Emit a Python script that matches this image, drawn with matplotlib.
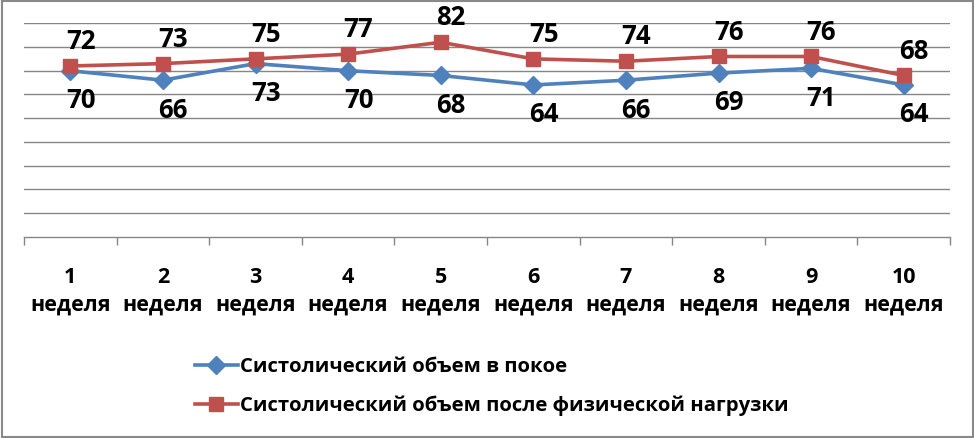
import matplotlib
matplotlib.use("Agg")
import matplotlib.pyplot as plt
from matplotlib.patches import Rectangle

plt.rcParams['font.family'] = ['Open Sans', 'DejaVu Sans']

weeks = [1, 2, 3, 4, 5, 6, 7, 8, 9, 10]
week_labels = [f"{w}\nнеделя" for w in weeks]
rest = [70, 66, 73, 70, 68, 64, 66, 69, 71, 64]
after_load = [72, 73, 75, 77, 82, 75, 74, 76, 76, 68]
name_rest = "Систолический объем в покое"
name_load = "Систолический объем после физической нагрузки"

blue = "#4F81BD"
red = "#C0504D"
grid_col = "#868686"

fig = plt.figure(figsize=(9.74, 4.38), dpi=100)
W, H = 974, 438
ax = fig.add_axes([24 / W, 1 - 236.7 / H, (950 - 24) / W, (236.7 - 23.3) / H])

l1, = ax.plot(weeks, rest, color=blue, lw=2.6, marker='D', ms=9, mec=blue, zorder=3)
l2, = ax.plot(weeks, after_load, color=red, lw=2.6, marker='s', ms=10, mec=red, zorder=4)

for x, v in zip(weeks, rest):
    ax.annotate(str(v), (x, v), xytext=(7.5, -21.5), textcoords='offset points',
                ha='center', va='center', fontsize=18.5, fontweight='bold')
for x, v in zip(weeks, after_load):
    ax.annotate(str(v), (x, v), xytext=(7.5, 17.5), textcoords='offset points',
                ha='center', va='center', fontsize=18.5, fontweight='bold')

ax.set_xlim(0.5, 10.5)
ax.set_ylim(0, 90)
ax.set_yticks(range(10, 100, 10))
ax.yaxis.grid(True, color=grid_col, lw=1.0)
ax.set_axisbelow(True)
ax.tick_params(axis='y', left=False, labelleft=False)

ax.set_xticks([i + 0.5 for i in range(0, 11)])
ax.set_xticklabels([])
ax.tick_params(axis='x', which='major', direction='out', length=6, width=1, color=grid_col)
ax.set_xticks(weeks, minor=True)
ax.set_xticklabels(week_labels, minor=True, fontsize=15.5, fontweight='bold', linespacing=1.42)
ax.tick_params(axis='x', which='minor', length=0, pad=22)

for s in ['top', 'left', 'right']:
    ax.spines[s].set_visible(False)
ax.spines['bottom'].set_color(grid_col)
ax.spines['bottom'].set_linewidth(1.0)

fig.legend([l1, l2], [name_rest, name_load], loc='center left',
           bbox_to_anchor=(195 / W, 1 - 386.5 / H), frameon=False,
           prop={'size': 14.6, 'weight': 'bold'}, handlelength=2.1,
           handletextpad=0.1, labelspacing=0.95, borderpad=0, borderaxespad=0)

fig.patches.append(Rectangle((1.5 / W, 1.0 / H), 971 / W, 436 / H, transform=fig.transFigure,
                             fill=False, edgecolor='#898989', lw=1.5))

fig.savefig("out.png", dpi=100)
